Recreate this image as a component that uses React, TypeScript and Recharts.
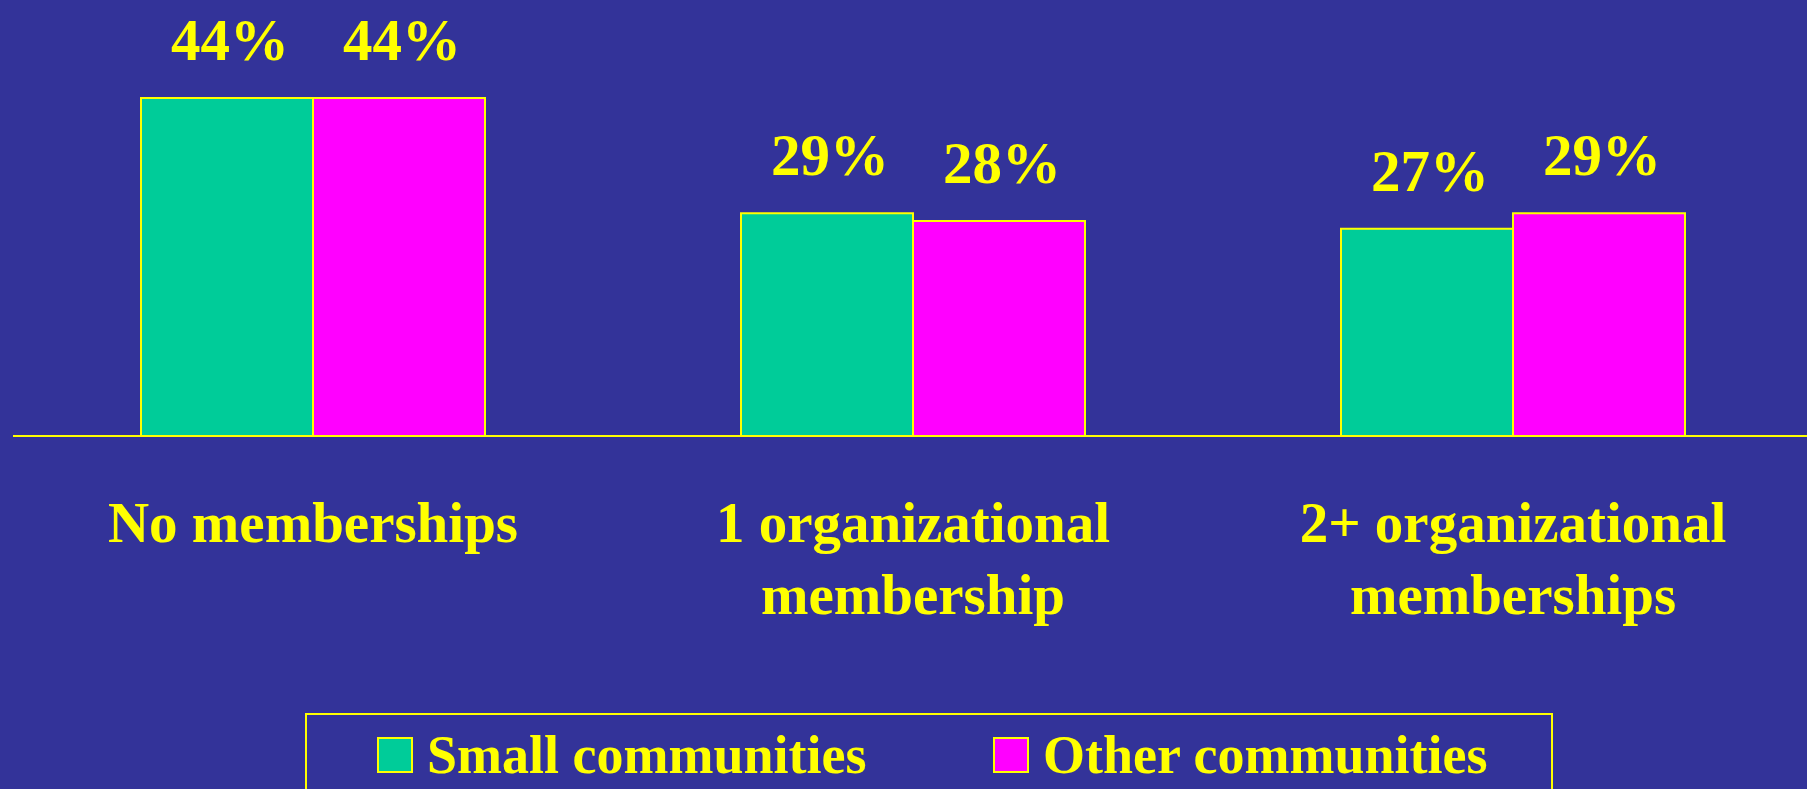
import { BarChart, Bar, XAxis, YAxis, LabelList } from 'recharts'

const categories = ['No memberships', '1 organizational\nmembership', '2+ organizational\nmemberships']
const small = [44, 29, 27]
const other = [44, 28, 29]

const BG = '#333399'
const YELLOW = '#FFFF00'
const GREEN = '#00CC99'
const MAGENTA = '#FF00FF'
const FONT = '"Liberation Serif", "Times New Roman", serif'

const data = categories.map((c, i) => ({ name: c, small: small[i], other: other[i] }))

function CategoryTick({ x, y, payload }: any) {
  const lines = String(payload.value).split('\n')
  return (
    <g>
      {lines.map((l, i) => (
        <text key={i} x={x} y={y + 106 + i * 72} textAnchor="middle" fill={YELLOW}
          fontFamily={FONT} fontWeight="bold" fontSize={57}>{l}</text>
      ))}
    </g>
  )
}

function ValueLabel({ x, y, width, value }: any) {
  return (
    <text x={x + width / 2 + 3} y={y - 38} textAnchor="middle" fill={YELLOW}
      fontFamily={FONT} fontWeight="bold" fontSize={59}>{value}%</text>
  )
}

export default function App() {
  return (
    <div style={{ width: 1807, height: 789, overflow: 'hidden', position: 'relative', background: BG }}>
      <style>{'html,body{margin:0;overflow:hidden}'}</style>
      <BarChart width={1820} height={789} data={data} barGap={0} barCategoryGap={128}
        margin={{ top: 52, right: 7, left: 13, bottom: 233 }}>
        <XAxis dataKey="name" height={120} tick={<CategoryTick />} tickLine={false} tickSize={0} tickMargin={0}
          axisLine={{ stroke: YELLOW, strokeWidth: 2 }} interval={0} />
        <YAxis hide domain={[0, 50]} />
        <Bar dataKey="small" fill={GREEN} stroke={YELLOW} strokeWidth={2} isAnimationActive={false}>
          <LabelList dataKey="small" content={<ValueLabel />} />
        </Bar>
        <Bar dataKey="other" fill={MAGENTA} stroke={YELLOW} strokeWidth={2} isAnimationActive={false}>
          <LabelList dataKey="other" content={<ValueLabel />} />
        </Bar>
      </BarChart>
      {/* legend box */}
      <div style={{
        position: 'absolute', left: 305, top: 713, width: 1248, height: 120,
        border: `2px solid ${YELLOW}`, boxSizing: 'border-box',
      }}>
        {[{ label: 'Small communities', color: GREEN, left: 70 }, { label: 'Other communities', color: MAGENTA, left: 686 }].map(it => (
          <div key={it.label} style={{ position: 'absolute', left: it.left, top: 8, display: 'flex', alignItems: 'center' }}>
            <span style={{ display: 'inline-block', width: 32, height: 32, background: it.color, border: `2px solid ${YELLOW}`, marginRight: 14 }} />
            <span style={{ color: YELLOW, fontFamily: FONT, fontWeight: 'bold', fontSize: 54, lineHeight: '64px' }}>{it.label}</span>
          </div>
        ))}
      </div>
    </div>
  )
}
